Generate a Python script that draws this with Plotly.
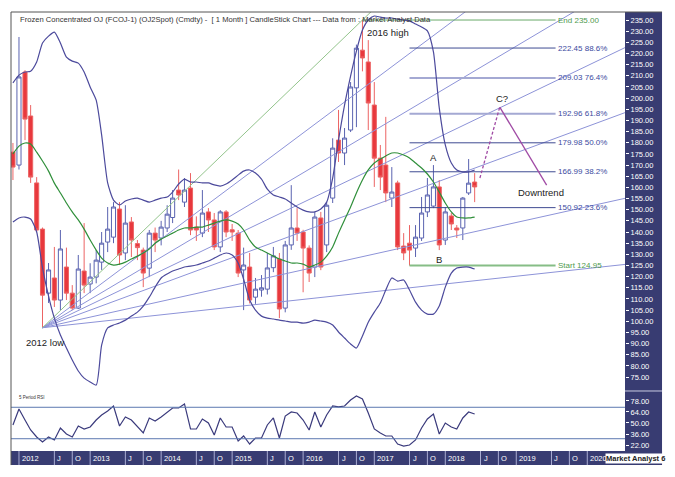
import pandas as pd
import plotly.graph_objects as go

# ---- data --------------------------------------------------------------
# monthly candles Dec 2011 .. Jun 2018
dates = pd.date_range("2011-12-01", periods=79, freq="MS")

opens = [175.8, 170.0, 211.7, 192.0, 162.0, 141.3, 112.6, 119.4, 109.5, 124.3,
         112.6, 105.9, 122.5, 116.7, 119.8, 126.5, 135.5, 137.7, 150.3, 130.6,
         144.5, 134.8, 131.9, 123.8, 139.5, 137.3, 141.8, 146.5, 158.8, 153.4,
         159.7, 142.2, 139.5, 149.0, 145.4, 133.3, 149.0, 141.0, 139.5, 123.0,
         124.3, 110.8, 114.0, 114.4, 124.0, 127.9, 105.9, 134.2, 141.8, 140.0,
         132.8, 124.3, 146.3, 134.2, 155.2, 181.2, 175.4, 185.7, 204.6, 221.5,
         216.2, 196.9, 173.1, 170.0, 155.2, 162.0, 133.7, 135.0, 132.8, 137.3,
         149.0, 151.6, 160.2, 136.4, 147.2, 141.8, 141.8, 157.5, 162.4]
highs = [179.9, 227.4, 212.5, 196.9, 164.6, 142.0, 126.1, 133.3, 140.9, 133.0,
         116.2, 129.7, 144.0, 126.0, 131.9, 140.0, 151.2, 153.4, 153.4, 152.0,
         146.7, 136.4, 133.0, 140.9, 142.0, 145.0, 152.0, 158.8, 168.0, 164.2,
         166.4, 147.0, 158.8, 150.7, 148.5, 149.8, 149.8, 143.6, 140.9, 133.0,
         130.6, 119.4, 120.7, 130.6, 133.3, 130.6, 136.0, 161.0, 150.7, 141.0,
         134.0, 149.0, 149.0, 153.4, 182.0, 194.7, 186.6, 207.2, 224.0, 235.0,
         226.0, 207.2, 179.0, 191.6, 169.1, 163.0, 139.5, 143.1, 143.1, 155.7,
         164.2, 170.0, 163.3, 151.2, 148.5, 143.1, 155.7, 172.7, 166.4]
lows = [163.3, 168.0, 181.2, 162.0, 140.0, 97.1, 108.2, 106.4, 105.0, 109.5,
        105.0, 105.5, 112.6, 112.6, 117.0, 123.0, 131.0, 135.0, 125.2, 127.4,
        128.8, 127.4, 115.3, 119.8, 131.0, 134.0, 140.0, 144.0, 154.3, 151.2,
        138.6, 136.0, 137.7, 140.0, 131.9, 131.0, 137.7, 136.0, 119.8, 105.0,
        108.0, 107.8, 111.0, 112.0, 122.0, 101.4, 104.0, 132.0, 136.0, 113.0,
        117.6, 119.8, 122.9, 131.0, 153.0, 171.4, 170.0, 184.8, 187.0, 212.0,
        185.7, 160.2, 158.8, 153.4, 151.2, 131.9, 127.4, 124.95, 128.8, 136.0,
        146.7, 150.7, 131.9, 134.2, 140.9, 137.3, 136.4, 156.6, 153.4]
closes = [169.1, 209.5, 190.6, 164.6, 140.9, 111.7, 123.0, 109.5, 132.4, 112.6,
          105.9, 123.4, 116.2, 119.8, 127.4, 135.0, 141.3, 151.2, 129.7, 144.0,
          136.4, 133.0, 121.6, 139.5, 136.4, 142.2, 148.0, 155.2, 156.6, 158.8,
          140.9, 140.9, 148.5, 145.4, 133.3, 149.0, 140.0, 140.0, 121.6, 125.2,
          109.5, 114.4, 115.0, 123.9, 129.3, 105.5, 134.2, 141.8, 139.5, 132.8,
          121.6, 146.7, 124.3, 152.0, 177.6, 175.4, 182.1, 205.0, 222.4, 218.0,
          197.8, 173.1, 164.6, 157.5, 157.9, 133.3, 130.6, 131.9, 137.7, 148.5,
          156.6, 160.2, 134.2, 149.0, 143.6, 140.9, 155.2, 161.9, 160.2]

bb_upper = [206.8, 210.3, 211.7, 212.1, 216.2, 224.7, 227.8, 229.6, 224.7, 218.4,
            216.6, 215.7, 211.7, 205.0, 199.1, 183.5, 162.0, 154.3, 152.1, 153.9,
            154.8, 155.2, 154.3, 153.4, 154.3, 155.2, 155.7, 157.9, 161.5, 163.7,
            162.4, 162.4, 162.0, 162.0, 161.1, 160.6, 161.5, 163.3, 165.5, 167.3,
            167.8, 166.4, 163.7, 159.2, 156.6, 155.7, 154.8, 153.0, 151.2, 149.8,
            149.0, 149.0, 150.3, 153.4, 164.2, 181.2, 196.9, 209.9, 221.1, 230.5,
            235.0, 236.8, 236.3, 235.9, 235.9, 235.4, 235.0, 234.6, 233.2, 231.9,
            230.1, 220.7, 195.6, 179.0, 170.9, 167.8, 166.9, 166.9, 167.8]
bb_lower = [144.5, 146.3, 146.7, 145.8, 140.0, 123.9, 111.3, 101.4, 93.8, 88.0,
            82.6, 77.7, 74.5, 72.8, 71.4, 89.3, 97.0, 98.3, 99.2, 100.5,
            102.3, 104.1, 106.8, 110.8, 115.3, 119.4, 121.2, 122.5, 123.4, 124.3,
            124.7, 125.2, 126.1, 127.0, 128.3, 129.7, 130.6, 129.7, 126.1, 118.9,
            109.5, 105.0, 102.3, 101.4, 101.0, 100.5, 100.1, 99.6, 99.6, 99.2,
            99.6, 100.5, 100.1, 99.6, 98.3, 95.2, 92.5, 89.8, 88.0, 93.4,
            99.6, 104.1, 108.2, 114.0, 119.4, 118.0, 118.5, 114.0, 108.6, 105.0,
            103.2, 103.2, 106.8, 115.3, 121.6, 123.9, 124.3, 124.3, 123.4]
bb_mid = [175.0, 178.5, 179.9, 179.4, 175.8, 171.8, 167.3, 161.9, 157.5, 153.0,
          149.0, 145.4, 141.3, 136.4, 131.9, 128.3, 126.1, 125.2, 125.6, 126.5,
          127.9, 129.2, 130.6, 132.4, 135.0, 136.8, 138.2, 139.5, 140.9, 141.8,
          141.8, 142.2, 142.2, 143.1, 144.0, 144.9, 145.4, 144.9, 143.6, 140.9,
          136.4, 133.3, 131.9, 130.6, 129.2, 127.9, 127.0, 126.1, 126.1, 125.6,
          124.3, 125.2, 126.5, 129.2, 133.3, 139.5, 145.4, 151.2, 157.5, 163.3,
          167.8, 170.9, 172.7, 174.1, 175.4, 175.4, 174.5, 173.2, 170.9, 168.7,
          166.0, 162.4, 157.9, 153.0, 149.0, 146.7, 146.3, 146.3, 146.7]

rsi = [47.5, 67.8, 53.8, 41.1, 32.2, 25.8, 32.2, 28.4, 43.6, 36.0,
       32.2, 46.2, 42.4, 44.9, 53.8, 60.2, 65.3, 71.6, 46.2, 57.6,
       53.8, 44.9, 37.3, 56.4, 52.6, 57.6, 64.0, 69.1, 69.1, 74.2,
       42.4, 42.4, 55.1, 50.0, 34.7, 56.4, 44.9, 44.9, 27.1, 33.5,
       23.3, 30.9, 30.9, 47.5, 56.4, 30.9, 58.9, 64.0, 62.7, 53.8,
       41.1, 64.0, 44.9, 60.2, 71.6, 70.4, 71.6, 79.3, 84.4, 80.5,
       62.7, 42.4, 37.3, 33.5, 33.5, 23.3, 20.7, 22.0, 28.4, 43.6,
       55.1, 61.5, 36.0, 50.0, 44.9, 42.4, 56.4, 64.0, 61.5]
rsi_bands = [70, 30]

# retracement of the 2016 high back from the 2017 low
fib_start_date, fib_start = "2017-07-01", 124.95
fib_end_date, fib_end = "2016-11-01", 235.00
fib_levels = [150.92, 166.99, 179.98, 192.96, 209.03, 222.45]
fib_pcts = ["23.6%", "38.2%", "50.0%", "61.8%", "76.4%", "88.6%"]
fib_stop = "2019-07-22"

# fan from the 2012 low through the 2016 high
fan_low_date, fan_low = "2012-05-01", 97.1
fan_high_date, fan_high = "2016-11-01", 235.0
fan_ratios = [0.113, 0.231, 0.384, 0.5, 0.618, 0.777, 1.0]

# projected C wave
proj_dates = ["2018-06-28", "2018-10-08", "2019-06-06"]
proj_prices = [164.2, 196.0, 161.0]

x_start, x_end = "2011-11-21", "2020-07-13"
price_ticks = list(range(75, 240, 5))
rsi_ticks = [22, 36, 50, 64, 78]

# ---- styling -----------------------------------------------------------
NAVY = "#383c72"
FONT = "Arial, Liberation Sans, sans-serif"
BAND = "#4c4a9c"
FAN = "#8d93d8"
FIB_DARK = "#3f4b92"
FIB_LIGHT = "#a4a9d3"
GREEN_TXT = "#4f9a4f"
BLUE_TXT = "#3b4aa0"

fig = go.Figure()

# fan lines, extended to the right edge
t0, t1, te = pd.Timestamp(fan_low_date), pd.Timestamp(fan_high_date), pd.Timestamp(x_end)
span, full = (t1 - t0).days, (te - t0).days
for r in fan_ratios:
    p_end = fan_low + r * (fan_high - fan_low) * full / span
    fig.add_trace(go.Scatter(
        x=[t0, te], y=[fan_low, p_end], mode="lines",
        line=dict(color="#93c48c" if r == 1.0 else FAN, width=1),
        hoverinfo="skip", showlegend=False,
    ))

# retracement lines
fig.add_trace(go.Scatter(x=[fib_end_date, fib_stop], y=[fib_end, fib_end], mode="lines",
                         line=dict(color="#6aaa6a", width=1), hoverinfo="skip", showlegend=False))
fig.add_trace(go.Scatter(x=[fib_start_date, fib_stop], y=[fib_start, fib_start], mode="lines",
                         line=dict(color="#86bd86", width=2), hoverinfo="skip", showlegend=False))
for lvl, pct in zip(fib_levels, fib_pcts):
    light = pct in ("61.8%", "76.4%")
    fig.add_trace(go.Scatter(
        x=[fib_start_date, fib_stop], y=[lvl, lvl], mode="lines",
        line=dict(color=FIB_LIGHT if light else FIB_DARK, width=2 if light else 1),
        hoverinfo="skip", showlegend=False,
    ))

fig.add_trace(go.Candlestick(
    x=dates, open=opens, high=highs, low=lows, close=closes,
    increasing=dict(fillcolor="white", line=dict(color="#5a63b0", width=1)),
    decreasing=dict(fillcolor="#e8383d", line=dict(color="#ec6464", width=1)),
    whiskerwidth=0, showlegend=False, hoverinfo="skip",
))

for band in (bb_upper, bb_lower):
    fig.add_trace(go.Scatter(x=dates, y=band, mode="lines",
                             line=dict(color=BAND, width=1.2, shape="spline", smoothing=0.6),
                             hoverinfo="skip", showlegend=False))
fig.add_trace(go.Scatter(x=dates, y=bb_mid, mode="lines",
                         line=dict(color="#2f8f3a", width=1.2, shape="spline", smoothing=0.6),
                         hoverinfo="skip", showlegend=False))

# projection
fig.add_trace(go.Scatter(x=proj_dates[:2], y=proj_prices[:2], mode="lines",
                         line=dict(color="#a04aa4", width=1.3, dash="3px,2px"),
                         hoverinfo="skip", showlegend=False))
fig.add_trace(go.Scatter(x=proj_dates[1:], y=proj_prices[1:], mode="lines",
                         line=dict(color="#a04aa4", width=1.3),
                         hoverinfo="skip", showlegend=False))

# RSI panel
fig.add_trace(go.Scatter(x=dates, y=rsi, yaxis="y2", mode="lines",
                         line=dict(color="#3a3a7c", width=1.2),
                         hoverinfo="skip", showlegend=False))

shapes = []
for lvl in rsi_bands:
    shapes.append(dict(type="line", xref="paper", x0=0, x1=1, yref="y2", y0=lvl, y1=lvl,
                       line=dict(color="#5b78b0", width=1)))

# navy axis frame: right price scale and bottom time band
shapes.append(dict(type="rect", xref="paper", yref="paper", x0=1, x1=1.0603, y0=-0.032, y1=1,
                   fillcolor=NAVY, line=dict(width=0), layer="below"))
shapes.append(dict(type="rect", xref="paper", yref="paper", x0=0, x1=1.0603, y0=-0.032, y1=0,
                   fillcolor=NAVY, line=dict(width=0), layer="below"))
shapes.append(dict(type="line", xref="paper", yref="paper", x0=1, x1=1.0603, y0=0.1367, y1=0.1367,
                   line=dict(color="#c9cbe2", width=1)))
shapes.append(dict(type="line", xref="paper", yref="paper", x0=0, x1=0, y0=-0.032, y1=1,
                   line=dict(color="#555555", width=1)))
shapes.append(dict(type="line", xref="paper", yref="paper", x0=0, x1=1.0603, y0=1, y1=1,
                   line=dict(color="#555555", width=1)))

annotations = []
# time labels on the bottom band
for year in range(2012, 2021):
    marks = [(f"{year}-01-01", str(year))]
    if year < 2020:
        marks += [(f"{year}-07-01", "J"), (f"{year}-10-01", "O")]
    for d, txt in marks:
        shapes.append(dict(type="line", xref="x", yref="paper", x0=d, x1=d, y0=-0.032, y1=0,
                           line=dict(color="#a9acd2", width=1)))
        annotations.append(dict(x=d, xref="x", y=-0.016, yref="paper", text=txt,
                                xanchor="left", yanchor="middle", xshift=1, showarrow=False,
                                font=dict(family=FONT, size=7.5, color="white")))

annotations.append(dict(x=0.9674, xref="paper", y=-0.0165, yref="paper",
                        text="<b>Market Analyst 6</b>", xanchor="left", yanchor="middle",
                        showarrow=False, bgcolor="white", borderpad=0,
                        font=dict(family=FONT, size=7.5, color="#222")))

annotations.append(dict(x=0.011, xref="paper", y=0.982, yref="paper", xanchor="left",
                        yanchor="middle", showarrow=False,
                        text="Frozen Concentrated OJ (FCOJ-1) (OJ2Spot) (Cmdty) -  [ 1 Month ] "
                             "CandleStick Chart --- Data from : Market Analyst Data",
                        font=dict(family=FONT, size=7.6, color="#333")))
annotations.append(dict(x=0.0098, xref="paper", y=0.121, yref="paper", xanchor="left",
                        yanchor="middle", showarrow=False, text="5 Period RSI",
                        font=dict(family=FONT, size=4.5, color="#333")))

# retracement labels
annotations.append(dict(x=fib_stop, y=fib_end, text=f"End {fib_end:.2f}", xanchor="left",
                        showarrow=False, font=dict(family=FONT, size=8, color=GREEN_TXT)))
annotations.append(dict(x=fib_stop, y=fib_start, text=f"Start {fib_start:.2f}", xanchor="left",
                        showarrow=False, font=dict(family=FONT, size=8, color=GREEN_TXT)))
for lvl, pct in zip(fib_levels, fib_pcts):
    annotations.append(dict(x=fib_stop, y=lvl, text=f"{lvl:.2f} {pct}", xanchor="left",
                            showarrow=False, font=dict(family=FONT, size=8, color=BLUE_TXT)))

# chart notes
for txt, d, p in [("2012 low", "2012-05-15", 90.7), ("2016 high", "2017-03-10", 229.6),
                  ("A", "2017-11-01", 173.2), ("B", "2017-12-01", 127.9),
                  ("C?", "2018-10-18", 200.0), ("Downtrend", "2019-05-10", 157.5)]:
    annotations.append(dict(x=d, y=p, text=txt, showarrow=False,
                            font=dict(family=FONT, size=9.5, color="#222")))

# the page body keeps the browser's 8px margin, so the figure is 8px smaller
fig.update_layout(
    width=667, height=469,
    margin=dict(l=3, r=50, t=4, b=26),
    paper_bgcolor="white", plot_bgcolor="white",
    font=dict(family=FONT),
    boxgap=0.25, boxgroupgap=0.0,
    xaxis=dict(type="date", range=[x_start, x_end], anchor="y2", showgrid=False,
               zeroline=False, showticklabels=False, ticks="", rangeslider=dict(visible=False)),
    yaxis=dict(domain=[0.139, 1], range=[69.2, 238.6], side="right", showgrid=False,
               zeroline=False, tickvals=price_ticks,
               ticktext=[f"{v:.2f}" for v in price_ticks],
               ticks="outside", ticklen=3, tickcolor="white",
               tickfont=dict(family=FONT, size=7.5, color="white")),
    yaxis2=dict(domain=[0, 0.1367], range=[14.4, 90.7], side="right", showgrid=False,
                zeroline=False, tickvals=rsi_ticks,
                ticktext=[f"{v:.2f}" for v in rsi_ticks],
                ticks="outside", ticklen=3, tickcolor="white",
                tickfont=dict(family=FONT, size=7.5, color="white")),
    shapes=shapes,
    annotations=annotations,
)

fig.write_html("out.html")
